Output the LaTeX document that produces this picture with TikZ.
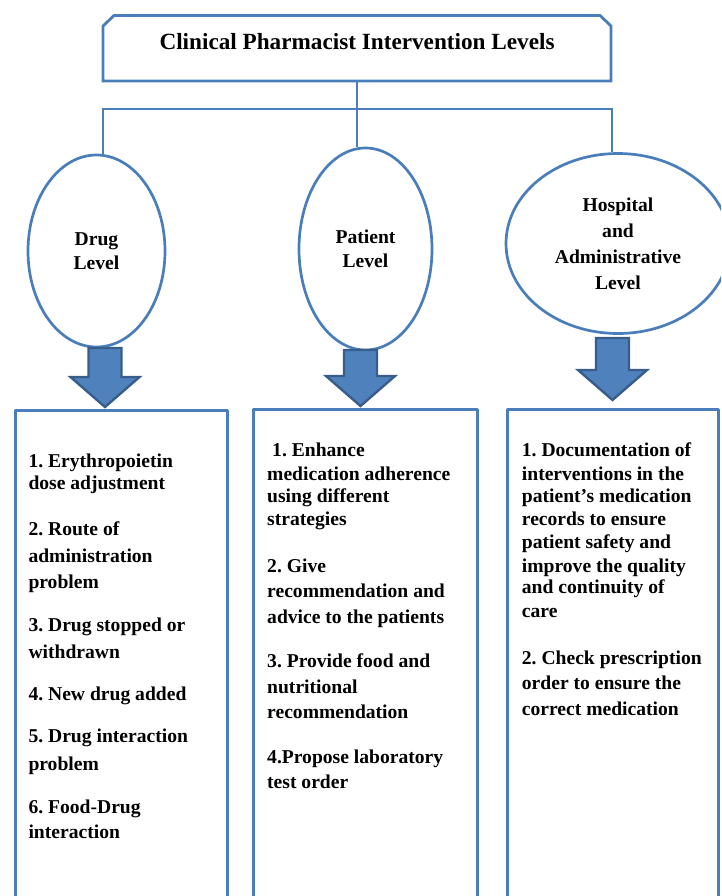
\documentclass[tikz,border=0pt]{standalone}
\usepackage{fontspec}
\setmainfont{Liberation Serif}
\usetikzlibrary{shapes.geometric}

\definecolor{lineblue}{HTML}{4A7EBB}
\definecolor{arrowfill}{HTML}{4F81BD}
\definecolor{arrowline}{HTML}{385D8A}

\begin{document}
\frenchspacing
\begin{tikzpicture}[
    x=1pt,y=-1pt,
    line join=round,
    titleframe/.style={draw=lineblue,line width=2.8pt,line join=miter},
    titletext/.style={anchor=base,inner sep=0pt,font=\fontsize{23.2}{26}\selectfont\bfseries},
    levelnode/.style={
        ellipse,
        draw=lineblue,
        line width=2.7pt,
        inner sep=0pt,
        align=center,
        font=\fontsize{19.6}{24.5}\selectfont\bfseries
    },
    branch/.style={draw=lineblue,line width=2.8pt,line join=miter},
    blockarrow/.style={fill=arrowfill,draw=arrowline,line width=2.4pt,line join=miter},
    listbox/.style={draw=lineblue,line width=2.8pt,anchor=north west,minimum height=520pt,inner sep=0pt},
    itemtext/.style={anchor=base west,inner sep=0pt,font=\fontsize{19.6}{22}\selectfont\bfseries}
]

\useasboundingbox (0,0) rectangle (721,896);
\clip (0,0) rectangle (721,896);

% top of the tree
\coordinate (tsw) at (103,81);
\coordinate (tse) at (611,81);
\coordinate (tbottom) at (357,81);
\draw[titleframe] (tsw) -- (103,26) -- (114,15.5) -- (600,15.5) -- (611,26) -- (tse) -- cycle;
\node[titletext] (title) at (357,50) {Clinical Pharmacist Intervention Levels};

% the three levels
\node[levelnode,minimum width=137pt,minimum height=192pt] (drug) at (96.5,251) {Drug\\Level};
\node[levelnode,minimum width=133pt,minimum height=202pt] (patient) at (365.5,249) {Patient\\Level};
\node[levelnode,minimum width=224pt,minimum height=180pt,font=\fontsize{19.6}{26}\selectfont\bfseries]
    (hospital) at (618,243.5) {Hospital\\and\\Administrative\\Level};

\coordinate (barleft) at (103,109);
\coordinate (barright) at (612,109);

\draw[branch] (tbottom) -- (tbottom |- patient.north);
\draw[branch] (barleft |- drug.north) -- (barleft) -- (barright) -- (barright |- hospital.north);

% block arrows
\foreach \ax/\ay/\at in {105/348/407, 360.5/350/406, 612.5/338/400}
    \filldraw[blockarrow] (\ax-16.5,\ay) -- (\ax+16.5,\ay) -- (\ax+16.5,\at-30)
        -- (\ax+34.5,\at-30) -- (\ax,\at) -- (\ax-34.5,\at-30) -- (\ax-16.5,\at-30) -- cycle;

% lists
\node[listbox,minimum width=212pt] (drugbox) at (14,409) {};
\node[listbox,minimum width=224pt] (patientbox) at (252,408) {};
\node[listbox,minimum width=211pt] (hospitalbox) at (506,408) {};

\foreach \ty/\txt [count=\i] in {
    467.7/{1. Erythropoietin}, 489/{dose adjustment},
    535/{2. Route of}, 562/{administration}, 588/{problem},
    631/{3. Drug stopped or}, 658/{withdrawn},
    700.7/{4. New drug added},
    742.7/{5. Drug interaction}, 770/{problem},
    813/{6. Food-Drug}, 838/{interaction}}
    \node[itemtext] (drugitem\i) at (28.3,\ty) {\txt};

\foreach \tx/\ty/\txt [count=\i] in {
    272/456/{1. Enhance}, 267/480/{medication adherence},
    267/502/{using different}, 267/525/{strategies},
    267/572/{2. Give}, 267/597/{recommendation and}, 267/623/{advice to the patients},
    267/667/{3. Provide food and}, 267/693/{nutritional}, 267/718/{recommendation},
    267/763/{4.Propose laboratory}, 267/788/{test order}}
    \node[itemtext] (patientitem\i) at (\tx,\ty) {\txt};

\foreach \ty/\txt [count=\i] in {
    456/{1. Documentation of}, 480/{interventions in the},
    502/{patient’s medication}, 525/{records to ensure},
    548/{patient safety and}, 572/{improve the quality},
    593/{and continuity of}, 617/{care},
    664/{2. Check prescription}, 689/{order to ensure the}, 715/{correct medication}}
    \node[itemtext] (hospitalitem\i) at (521.7,\ty) {\txt};

\end{tikzpicture}
\end{document}
